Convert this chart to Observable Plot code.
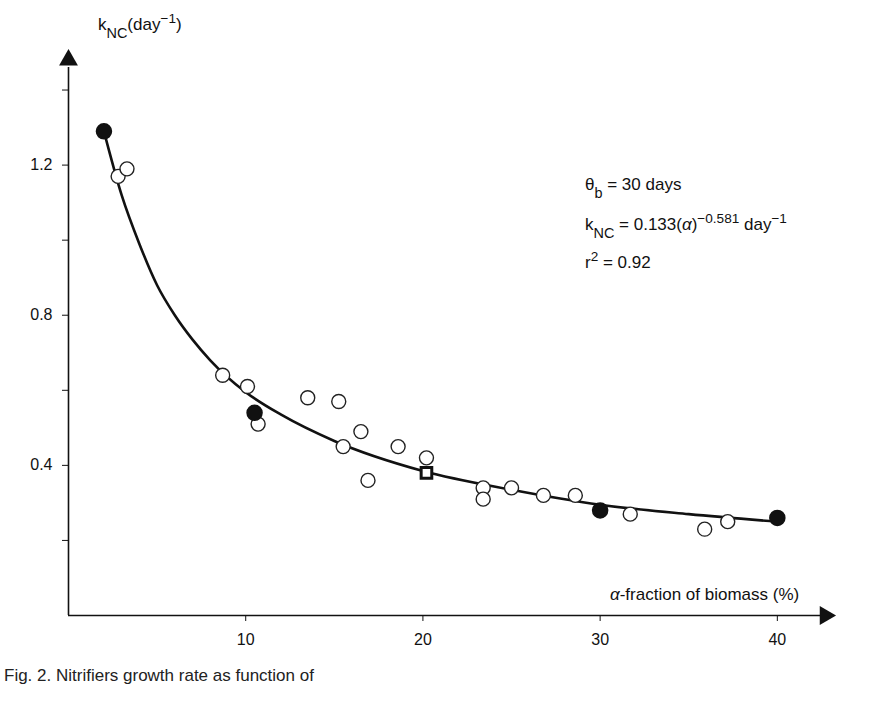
<!DOCTYPE html>
<html>
<head>
<meta charset="utf-8">
<script src="https://cdn.jsdelivr.net/npm/d3@7"></script>
<script src="https://cdn.jsdelivr.net/npm/@observablehq/plot@0.6"></script>
<style>
  body { margin: 0; background: #fff; font-family: "Liberation Sans", Arial, sans-serif; }
  #caption { font-size: 17px; color: #222; padding-left: 4px; margin-top: 6px; }
</style>
</head>
<body>
<div id="chart"></div>
<div id="caption">Fig. 2. Nitrifiers growth rate as function of</div>
<script>
// Open circles: measured k_NC vs α-fraction (%)
const openX = [2.8, 3.3, 8.7, 10.1, 10.7, 13.5, 15.25, 15.5, 16.5, 16.9, 18.6, 20.2, 23.4, 23.4, 25.0, 26.8, 28.6, 31.7, 35.9, 37.2];
const openY = [1.17, 1.19, 0.64, 0.61, 0.51, 0.58, 0.57, 0.45, 0.49, 0.36, 0.45, 0.42, 0.34, 0.31, 0.34, 0.32, 0.32, 0.27, 0.23, 0.25];
// Filled circles
const filledX = [2.0, 10.5, 30.0, 40.0];
const filledY = [1.29, 0.54, 0.28, 0.26];
// Square marker
const squareX = [20.2];
const squareY = [0.38];
// Fitted curve
const curveX = [2, 3, 4, 5, 6, 7, 8, 10, 12, 15, 20, 25, 30, 35, 40];
const curveY = [1.29, 1.12, 0.99, 0.88, 0.80, 0.735, 0.68, 0.595, 0.535, 0.465, 0.385, 0.335, 0.295, 0.27, 0.25];
// Axis ticks
const xTicks = [10, 20, 30, 40];
const yTicks = [0.2, 0.4, 0.6, 0.8, 1.0, 1.2, 1.4];
const yTickLabels = [0.4, 0.8, 1.2];

const toRows = (xs, ys) => xs.map((x, i) => ({x, y: ys[i]}));
const openPts = toRows(openX, openY);
const filledPts = toRows(filledX, filledY);
const squarePts = toRows(squareX, squareY);
const curvePts = toRows(curveX, curveY);

const plot = Plot.plot({
  width: 893,
  height: 660,
  marginLeft: 68,
  marginRight: 63,
  marginTop: 52,
  marginBottom: 45,
  style: {fontFamily: "'Liberation Sans', Arial, sans-serif", fontSize: "16px", color: "#111", background: "#fff"},
  x: {domain: [0, 43], ticks: xTicks, tickSize: 6, tickPadding: 12, label: null, tickFormat: d => String(d)},
  y: {domain: [0, 1.5], ticks: yTicks, tickSize: 6, tickPadding: 10, label: null,
      tickFormat: d => yTickLabels.some(v => Math.abs(v - d) < 1e-9) ? d.toFixed(1) : ""},
  marks: [
    Plot.ruleY([0], {x1: 0, x2: 42.6, stroke: "#111", strokeWidth: 1.6}),
    Plot.ruleX([0], {y1: 0, y2: 1.46, stroke: "#111", strokeWidth: 1.6}),
    Plot.dot([{x: 0, y: 1.48}], {x: "x", y: "y", symbol: "triangle", r: 7, fill: "#111", stroke: "none"}),
    Plot.dot([{x: 42.7, y: 0}], {x: "x", y: "y", symbol: "triangle", r: 7, fill: "#111", stroke: "none", rotate: 90}),
    Plot.line(curvePts, {x: "x", y: "y", curve: "monotone-x", stroke: "#111", strokeWidth: 2.6}),
    Plot.dot(openPts, {x: "x", y: "y", r: 7, fill: "#fff", stroke: "#222", strokeWidth: 1.4}),
    Plot.dot(filledPts, {x: "x", y: "y", r: 7.5, fill: "#111", stroke: "#111"}),
    Plot.dot(squarePts, {x: "x", y: "y", symbol: "square", r: 6, fill: "#fff", stroke: "#111", strokeWidth: 3})
  ]
});

document.getElementById("chart").appendChild(plot);

// Rich text (sub/superscripts) added as real SVG text
const svg = d3.select(plot);
const font = "'Liberation Sans', Arial, sans-serif";

function addText(x, y, parts, size = 17, anchor = "start") {
  const t = svg.append("text").attr("x", x).attr("y", y)
    .attr("font-family", font).attr("font-size", size).attr("fill", "#111")
    .attr("text-anchor", anchor);
  parts.forEach(p => {
    const ts = t.append("tspan").text(p.t);
    if (p.sub) ts.attr("baseline-shift", "sub").attr("font-size", size * 0.85);
    if (p.sup) ts.attr("baseline-shift", "super").attr("font-size", size * 0.8);
    if (p.it) ts.attr("font-style", "italic");
  });
}

// y-axis label
addText(98, 30, [{t: "k"}, {t: "NC", sub: true}, {t: "(day"}, {t: "−1", sup: true}, {t: ")"}], 17);
// x-axis label
addText(610, 600, [{t: "α", it: true}, {t: "-fraction of biomass (%)"}], 17);
// annotation
addText(585, 190, [{t: "θ"}, {t: "b", sub: true}, {t: " = 30 days"}], 17);
addText(585, 230, [{t: "k"}, {t: "NC", sub: true}, {t: " = 0.133("}, {t: "α", it: true}, {t: ")"}, {t: "−0.581", sup: true}, {t: " day"}, {t: "−1", sup: true}], 17);
addText(585, 268, [{t: "r"}, {t: "2", sup: true}, {t: " = 0.92"}], 17);
</script>
</body>
</html>
